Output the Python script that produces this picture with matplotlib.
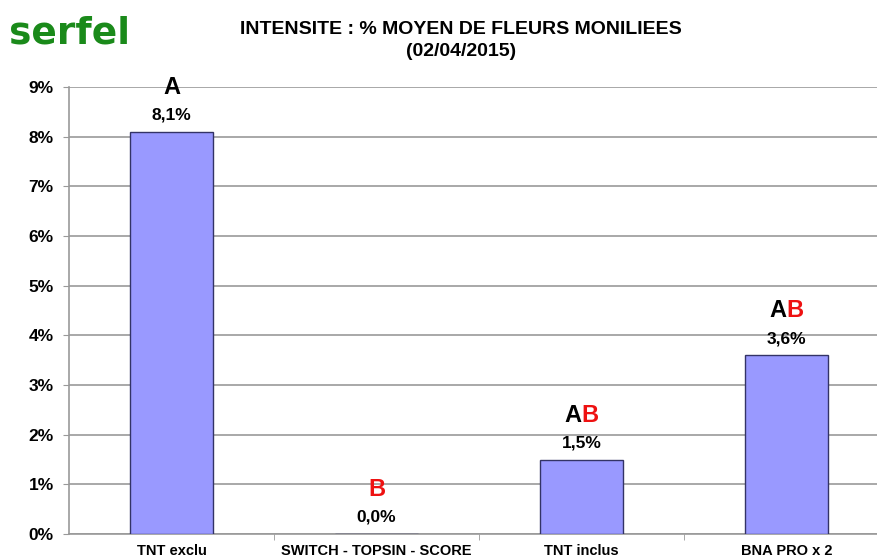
import matplotlib
matplotlib.use("Agg")
import matplotlib.pyplot as plt
from matplotlib.ticker import FuncFormatter, MultipleLocator, FixedLocator

categories = ["TNT exclu", "SWITCH - TOPSIN - SCORE", "TNT inclus", "BNA PRO x 2"]
values = [8.1, 0.0, 1.5, 3.6]
value_labels = ["8,1%", "0,0%", "1,5%", "3,6%"]
groups = [("A", ""), ("", "B"), ("A", "B"), ("A", "B")]

plt.rcParams['font.family'] = ['Liberation Sans', 'DejaVu Sans']

fig = plt.figure(figsize=(8.78, 5.58), dpi=100)
ax = fig.add_axes([69/878, 1-534/558, (889-69)/878, (534-87)/558])

x = list(range(len(categories)))
ax.bar(x, values, width=0.405, color="#9999FF", edgecolor="#333366", linewidth=1.0, zorder=3)

ax.set_xlim(-0.5, len(categories)-0.5)
ax.set_ylim(0, 9)
ax.yaxis.set_major_locator(MultipleLocator(1))
ax.yaxis.set_major_formatter(FuncFormatter(lambda v, p: f"{int(round(v))}%"))
ax.grid(axis='y', color="#999999", linewidth=1.2, zorder=0)
ax.set_axisbelow(True)

ax.set_xticks(x)
ax.set_xticklabels(categories, fontweight='bold', fontsize=10.5)
ax.tick_params(axis='x', length=0, pad=7)
ax.xaxis.set_minor_locator(FixedLocator([i + 0.5 for i in range(len(categories)-1)]))
ax.tick_params(axis='x', which='minor', length=4, color="#999999", direction='out')
ax.tick_params(axis='y', length=4, color="#999999", labelsize=12.5, pad=7)
for lab in ax.get_yticklabels():
    lab.set_fontweight('bold')

for s in ['top', 'right']:
    ax.spines[s].set_visible(False)
for s in ['left', 'bottom']:
    ax.spines[s].set_color("#999999")
    ax.spines[s].set_linewidth(1.2)

for xi, v, vl, (ga, gb) in zip(x, values, value_labels, groups):
    ax.annotate(vl, (xi, v), xytext=(0, 9), textcoords='offset pixels',
                ha='center', va='bottom', fontsize=12.5, fontweight='bold')
    if ga and gb:
        ax.annotate(ga, (xi, v), xytext=(0, 33), textcoords='offset pixels',
                    ha='right', va='bottom', fontsize=17, fontweight='bold', color='black')
        ax.annotate(gb, (xi, v), xytext=(0, 33), textcoords='offset pixels',
                    ha='left', va='bottom', fontsize=17, fontweight='bold', color='#ee1111')
    else:
        ax.annotate(ga or gb, (xi, v), xytext=(0, 33), textcoords='offset pixels',
                    ha='center', va='bottom', fontsize=17, fontweight='bold',
                    color='black' if ga else '#ee1111')

fig.text(461/878, 1-30/558, "INTENSITE : % MOYEN DE FLEURS MONILIEES",
         ha='center', va='center', fontsize=14, fontweight='bold')
fig.text(461/878, 1-52/558, "(02/04/2015)", ha='center', va='center',
         fontsize=14, fontweight='bold')
fig.text(9/878, 1-44/558, "serfel", ha='left', va='baseline', fontsize=27,
         fontweight='bold', color='#1a8a1a', family=['DejaVu Sans'])

fig.savefig("out.png", dpi=100)
